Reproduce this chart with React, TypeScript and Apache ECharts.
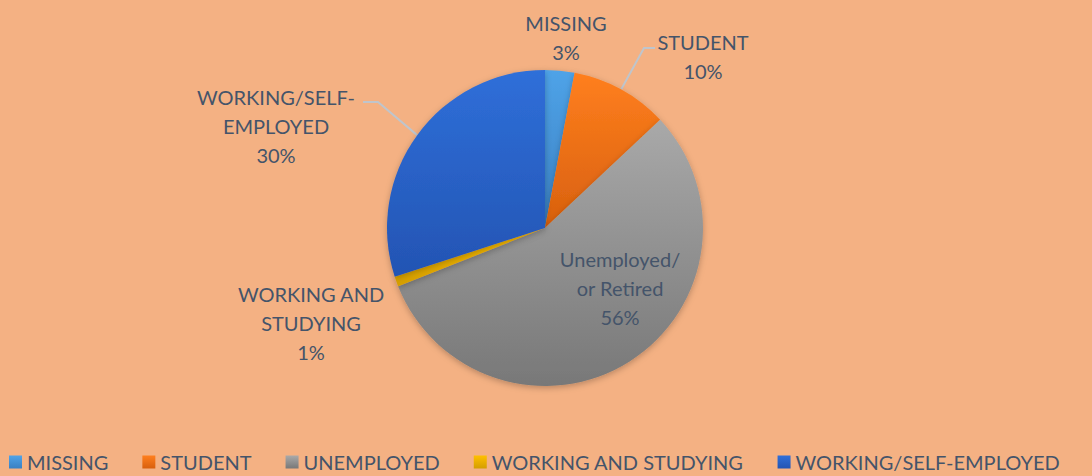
import React, { useEffect, useRef } from "react";
import * as echarts from "echarts";

const categories = ["MISSING", "STUDENT", "UNEMPLOYED", "WORKING AND STUDYING", "WORKING/SELF-EMPLOYED"];
const values = [3, 10, 56, 1, 30];
const labelTexts = ["MISSING", "STUDENT", "Unemployed/\nor Retired", "WORKING AND\nSTUDYING", "WORKING/SELF-\nEMPLOYED"];
const topColors = ["#4FA3E8", "#FF7F1E", "#A9A9A9", "#FFC000", "#2F6FD9"];
const bottomColors = ["#3A80C2", "#D8600E", "#787878", "#D49E00", "#2354B3"];
// label centers (px) for each slice's label block
const labelPos: number[][] = [
  [566, 37],
  [703, 56],
  [620, 288],
  [311, 323],
  [276, 126],
];
// leader line elbow and end (px) for labelled slices, null = no line
const leaderBends: (number[][] | null)[] = [
  null,
  [[644, 48], [655, 48]],
  null,
  null,
  [[378, 102], [363, 102]],
];

export default function App() {
  const ref = useRef<HTMLDivElement>(null);
  useEffect(() => {
    document.body.style.margin = "0";
    const chart = echarts.init(ref.current!, undefined, { renderer: "svg" });
    const total = values.reduce((a, b) => a + b, 0);
    const data = categories.map((name, i) => ({
      name,
      value: values[i],
      itemStyle: {
        color: new echarts.graphic.LinearGradient(0, 0, 0, 1, [
          { offset: 0, color: topColors[i] },
          { offset: 1, color: bottomColors[i] },
        ]),
      },
      label: {
        formatter: () => `${labelTexts[i]}\n${Math.round((values[i] / total) * 100)}%`,
      },
      labelLine: { show: leaderBends[i] !== null },
    }));
    chart.setOption({
      animation: false,
      backgroundColor: "#F4B183",
      legend: {
        bottom: -1,
        left: 9,
        padding: [5, 0],
        icon: "rect",
        itemWidth: 13,
        itemHeight: 13,
        itemGap: 34,
        textStyle: { color: "#44546A", fontSize: 20, fontFamily: "Lato" },
        data: categories,
      },
      series: [
        {
          type: "pie",
          center: [545, 228],
          radius: 158,
          startAngle: 90,
          clockwise: true,
          data,
          itemStyle: {
            borderWidth: 0,
            shadowBlur: 6,
            shadowColor: "rgba(0,0,0,0.25)",
            shadowOffsetY: 2,
          },
          emphasis: { disabled: true },
          label: {
            show: true,
            position: "outside",
            color: "#44546A",
            fontSize: 20,
            lineHeight: 29,
            fontFamily: "Lato",
            align: "center",
          },
          labelLine: {
            lineStyle: { color: "#BFC5CC", width: 2 },
          },
          labelLayout: (params: any) => {
            const p = labelPos[params.dataIndex];
            const out: any = { x: p[0], y: p[1], align: "center", verticalAlign: "middle" };
            const bend = leaderBends[params.dataIndex];
            if (bend && params.labelLinePoints) {
              out.labelLinePoints = [params.labelLinePoints[0], bend[0], bend[1]];
            }
            return out;
          },
        },
      ],
    });
    return () => chart.dispose();
  }, []);
  return <div ref={ref} style={{ width: 1092, height: 476 }} />;
}
